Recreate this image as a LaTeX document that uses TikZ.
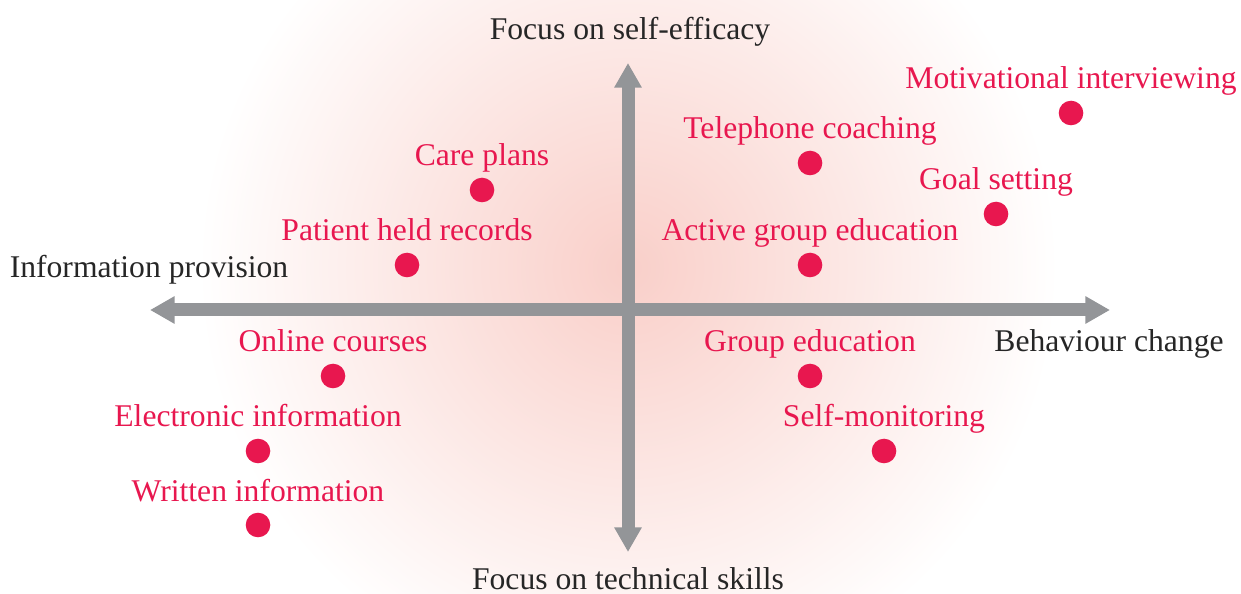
\documentclass[tikz,border=0pt]{standalone}
\usepackage{fontspec}
\setmainfont{Liberation Serif}
\usetikzlibrary{positioning,calc,arrows.meta}
\definecolor{axisgrey}{HTML}{939598}
\definecolor{dotred}{HTML}{E8174F}
\definecolor{glow}{HTML}{F9CFC9}
\tikzset{
  dot/.style={circle,fill=dotred,inner sep=0pt,minimum size=14pt},
  lbl/.style={text=dotred,font=\fontsize{18}{21}\selectfont,inner sep=0pt,anchor=base},
  axislbl/.style={text=black!85,font=\fontsize{18}{21}\selectfont,inner sep=0pt,anchor=base},
  axis/.style={line width=7.4pt,draw=axisgrey,-{Triangle[width=0pt 2,length=0pt 1.9]}}
}
\begin{document}
\begin{tikzpicture}[x=0.02cm,y=-0.02cm]
        \useasboundingbox (0,0) rectangle (1241,594);
        \begin{scope}
        \clip (0,0) rectangle (1241,594);
        \shade[inner color=glow,outer color=white] (628,268) circle (430);
        \end{scope}
        % axes
        \coordinate (o) at (628,310);
        \coordinate (l) at (150,310);
        \coordinate (r) at (1110,310);
        \coordinate (t) at (628,63);
        \coordinate (b) at (628,552);
        \draw[axis] (o) -- (l);
        \draw[axis] (o) -- (r);
        \draw[axis] (o) -- (t);
        \draw[axis] (o) -- (b);
        \node[axislbl] (top) at (630,40) {Focus on self-efficacy};
        \node[axislbl] (bot) at (628,589) {Focus on technical skills};
        \node[axislbl] (left) at (149,278) {Information provision};
        \node[axislbl] (right) at (1109,352) {Behaviour change};
        % approaches
        \node[dot] (mi) at (1071,113) {};
        \node[dot] (tc) at (810,163) {};
        \node[dot] (gs) at (996,214) {};
        \node[dot] (cp) at (482,190) {};
        \node[dot] (phr) at (407,265) {};
        \node[dot] (age) at (810,265) {};
        \node[dot] (oc) at (333,376) {};
        \node[dot] (ge) at (810,376) {};
        \node[dot] (ei) at (258,451) {};
        \node[dot] (sm) at (884,451) {};
        \node[dot] (wi) at (258,525) {};
        \node[lbl] at ($(mi)+(0,-24)$) {Motivational interviewing};
        \node[lbl] at ($(tc)+(0,-24)$) {Telephone coaching};
        \node[lbl] at ($(gs)+(0,-24)$) {Goal setting};
        \node[lbl] at ($(cp)+(0,-24)$) {Care plans};
        \node[lbl] at ($(phr)+(0,-24)$) {Patient held records};
        \node[lbl] at ($(age)+(0,-24)$) {Active group education};
        \node[lbl] at ($(oc)+(0,-24)$) {Online courses};
        \node[lbl] at ($(ge)+(0,-24)$) {Group education};
        \node[lbl] at ($(ei)+(0,-24)$) {Electronic information};
        \node[lbl] at ($(sm)+(0,-24)$) {Self-monitoring};
        \node[lbl] at ($(wi)+(0,-24)$) {Written information};
\end{tikzpicture}
\end{document}
